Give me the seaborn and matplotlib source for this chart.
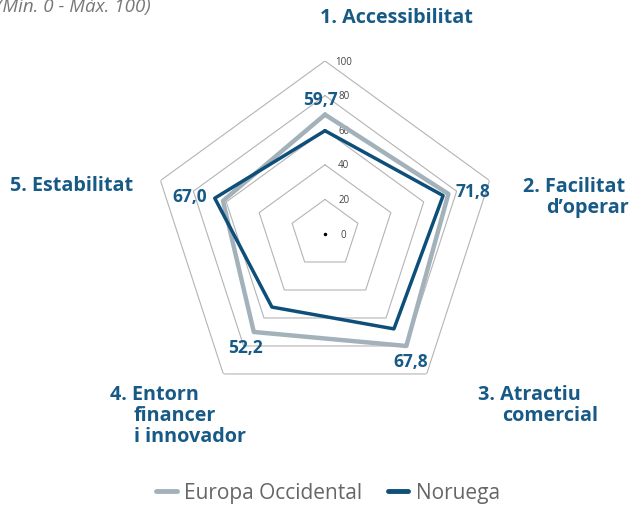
"""
Radar chart: Norway vs Western Europe (index 0-100)
"""

import numpy as np
import pandas as pd
import matplotlib.pyplot as plt
from matplotlib.lines import Line2D
import seaborn as sns

# === Data ===
categories = ["1. Accessibilitat", "2. Facilitat d'operar", "3. Atractiu comercial",
              "4. Entorn financer i innovador", "5. Estabilitat"]
europa = [69.0, 75.0, 80.0, 70.0, 62.0]
noruega = [59.7, 71.8, 67.8, 52.2, 67.0]
value_labels = ["59,7", "71,8", "67,8", "52,2", "67,0"]
ring_ticks = [0, 20, 40, 60, 80, 100]

# === Style ===
sns.set_theme(style="white")
plt.rcParams['font.family'] = ['Open Sans', 'DejaVu Sans']
BLUE = "#0e4f7a"
TXT_BLUE = "#175a86"
GREY = "#a3b2ba"
GRID = "#b4b4b4"

W, H = 633, 506
fig = plt.figure(figsize=(W / 100, H / 100), dpi=100)

# center (325,235) px, r=100 -> 173 px
cx, cy, R = 325, 235, 173
ax = fig.add_axes([(cx - R) / W, (H - cy - R) / H, 2 * R / W, 2 * R / H], projection="polar")
ax.set_theta_offset(np.pi / 2)
ax.set_theta_direction(-1)
ax.set_ylim(0, 100)
ax.grid(False)
ax.spines["polar"].set_visible(False)
ax.set_xticks([])
ax.set_yticks([])
ax.patch.set_alpha(0)

n = len(categories)
angles = np.linspace(0, 2 * np.pi, n, endpoint=False)
closed = np.append(angles, angles[0] + 2 * np.pi)

# pentagon grid
for r in ring_ticks[1:]:
    ax.plot(closed, [r] * (n + 1), color=GRID, linewidth=0.8, zorder=1)
ax.plot([0], [0], marker="o", markersize=1.5, color="black")
for r in ring_ticks:
    ax.annotate(str(r), xy=(0, r), xytext=(13.5, 0), textcoords="offset points",
                ha="center", va="center", fontsize=7, color="#444444")

# series
df = pd.DataFrame({
    "angle": np.concatenate([closed, closed]),
    "value": europa + [europa[0]] + noruega + [noruega[0]],
    "series": ["Europa Occidental"] * (n + 1) + ["Noruega"] * (n + 1),
})
sns.lineplot(data=df[df.series == "Europa Occidental"], x="angle", y="value",
             sort=False, estimator=None, color=GREY, linewidth=3.2, ax=ax, zorder=3)
sns.lineplot(data=df[df.series == "Noruega"], x="angle", y="value",
             sort=False, estimator=None, color=BLUE, linewidth=2.5, ax=ax, zorder=4)
ax.set_xlabel("")
ax.set_ylabel("")
ax.set_ylim(0, 100)


def px(x, y):
    return x / W, 1 - y / H


# value labels (Norway)
val_pos = [(320, 100), (473, 192), (411, 362), (245, 348), (190, 197)]
for lab, (x, y) in zip(value_labels, val_pos):
    fig.text(*px(x, y), lab, ha="center", va="center", fontsize=12.5,
             fontweight="bold", color=TXT_BLUE)

# category labels: first line whole, further lines with hanging indent
lab_kw = dict(fontsize=14.2, fontweight="bold", color=TXT_BLUE, va="center")
LINE = 21
fig.text(*px(396, 18), "1. Accessibilitat", ha="center", **lab_kw)
cat_parts = [
    (["2. Facilitat", "d\u2019operar"], 523, 546, 187),
    (["3. Atractiu", "comercial"], 478, 502, 395),
    (["4. Entorn", "financer", "i innovador"], 110, 134, 395),
    (["5. Estabilitat"], 10, 35, 186),
]
for lines, xn, xb, y0 in cat_parts:
    fig.text(*px(xn, y0), lines[0], ha="left", **lab_kw)
    for i, ln in enumerate(lines[1:], start=1):
        fig.text(*px(xb, y0 + i * LINE), ln, ha="left", **lab_kw)

# subtitle (cut off at top-left in the original)
fig.text(*px(151, 12), "(Mín. 0 - Màx. 100)", ha="right", va="baseline",
         fontsize=13.5, style="italic", color="#777777")

# legend
handles = [Line2D([], [], color=GREY, linewidth=3.5),
           Line2D([], [], color=BLUE, linewidth=3.5)]
leg = fig.legend(handles, ["Europa Occidental", "Noruega"], loc="center",
                 bbox_to_anchor=(328 / W, 1 - 494 / H), ncol=2, frameon=False,
                 fontsize=15, handlelength=1.0, handletextpad=0.35, columnspacing=1.2)
for t in leg.get_texts():
    t.set_color("#666666")

plt.savefig("out.png", dpi=100)
plt.close()
